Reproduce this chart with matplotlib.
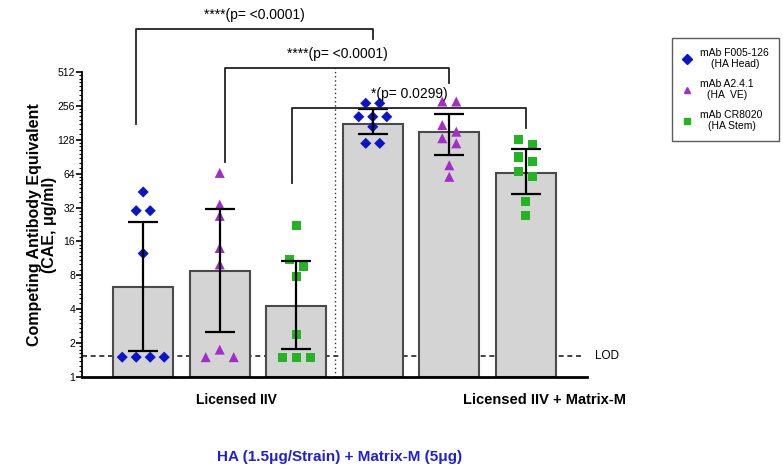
"""competing antibody equivalent per group, log2 scale"""
import numpy as np
import matplotlib
matplotlib.use("Agg")
import matplotlib.pyplot as plt
from matplotlib.ticker import LogLocator, NullFormatter
from matplotlib.transforms import blended_transform_factory

plt.rcParams['font.family'] = ['Liberation Sans', 'DejaVu Sans']

# bar heights (geometric means) and error bar ends
bar_means = [6.3, 8.7, 4.3, 178, 151, 65]
err_low = [1.69, 2.5, 1.78, 143, 94, 42]
err_high = [23.9, 31, 10.8, 238, 218, 105]

# individual values per bar
points = [
    [44, 30, 30, 12.5, 1.5, 1.5, 1.5, 1.5],
    [65, 34, 27, 14, 10, 1.75, 1.5, 1.5],
    [22, 11, 9.7, 7.8, 2.4, 1.5, 1.5, 1.5],
    [270, 270, 205, 205, 205, 167, 119, 119],
    [280, 280, 173, 151, 132, 119, 76, 60],
    [129, 115, 90, 82, 67, 60, 36, 27],
]
mabs = ["mAb F005-126\n(HA Head)", "mAb A2.4.1\n(HA  VE)", "mAb CR8020\n(HA Stem)"]
groups = ["Licensed IIV", "Licensed IIV + Matrix-M"]
lod = 1.55
yticks = [1, 2, 4, 8, 16, 32, 64, 128, 256, 512]

# (bar a, bar b, label)
comparisons = [
    (0, 3, "****(p= <0.0001)"),
    (1, 4, "****(p= <0.0001)"),
    (2, 5, "*(p= 0.0299)"),
]

markers = ['D', '^', 's']
colors = ['#0a14c8', '#a42cc8', '#22b422']
msizes = [32, 52, 44]


def swarm_offsets(vals, px_y, px_x, step=14, gap=9):
    """spread points of similar value sideways (in pixels), return x offsets"""
    lv = np.log2(np.asarray(vals, float)) * px_y
    order = np.argsort(lv)[::-1]
    clusters = []
    for i in order:
        if clusters and lv[clusters[-1][0]] - lv[i] <= gap:
            clusters[-1].append(i)
        else:
            clusters.append([i])
    offs = np.zeros(len(vals))
    for c in clusters:
        n = len(c)
        slots = (np.arange(n) - (n - 1) / 2) * step
        slots = slots[np.argsort(np.abs(slots), kind='stable')]
        for i, s in zip(c, slots):
            offs[i] = s / px_x
    return offs


fig = plt.figure(figsize=(7.83, 4.72), dpi=100)
ax = fig.add_axes([82 / 783, 95 / 472, 505 / 783, 305 / 472])
ax.set_yscale('log', base=2)
ax.set_xlim(-0.8, 5.8)
ax.set_ylim(1, 512)

x = np.arange(len(bar_means))
means = np.array(bar_means)
ax.bar(x, means - 1, bottom=1, width=0.79, color='#d4d4d4', edgecolor='#4a4a4a',
       linewidth=1.5, zorder=2)

# pixels per unit, for the swarm
px_x = ax.bbox.width / (5.8 + 0.8)
px_y = ax.bbox.height / 9
for i, vals in enumerate(points):
    k = i % 3
    offs = swarm_offsets(vals, px_y, px_x)
    ax.scatter(x[i] + offs, vals, marker=markers[k], s=msizes[k],
               color=colors[k], edgecolor='none', zorder=3, clip_on=False)

ax.errorbar(x, means, yerr=[means - np.array(err_low), np.array(err_high) - means],
            fmt='none', ecolor='black', elinewidth=1.6, capsize=11, capthick=1.6, zorder=4)

# LOD
ax.axhline(lod, xmin=0, xmax=0.994, color='#222222', lw=1.2, ls=(0, (3, 2.2)), zorder=1)
ax.text(5.9, lod, "LOD", fontsize=8.5, va='center', ha='left')

# significance brackets
levels = [1225, 552, 247]
left_bottom = [176, 81, 53]
right_bottom = [1003, 408, 163]
left_shift = [-0.1, 0.07, -0.05]
for (a, b, lab), lev, lb, rb, sh in zip(comparisons, levels, left_bottom, right_bottom, left_shift):
    xa, xb = a + sh, b
    ax.plot([xa, xa, xb, xb], [lb, lev, lev, rb], color='#222222', lw=1.3,
            clip_on=False, zorder=5)
    ax.text((xa + xb) / 2, lev * 1.33, lab, fontsize=10, ha='center', va='center')

# separator between the two groups
ax.plot([2.5, 2.5], [1, levels[1]], color='#333333', lw=1, ls=(0, (1, 2)),
        clip_on=False, zorder=1)

ax.set_yticks(yticks, labels=[str(t) for t in yticks])
ax.yaxis.set_minor_locator(LogLocator(base=2, subs=np.arange(1.125, 2, 0.125), numticks=100))
ax.yaxis.set_minor_formatter(NullFormatter())
ax.tick_params(axis='y', which='major', length=4, width=1.2, labelsize=7.5, pad=1)
ax.tick_params(axis='y', which='minor', length=2, width=0.8)
ax.set_xticks([])
for s in ['top', 'right']:
    ax.spines[s].set_visible(False)
ax.spines['left'].set_linewidth(1.3)
ax.spines['bottom'].set_linewidth(2)

ax.set_ylabel("Competing Antibody Equivalent\n(CAE, μg/ml)", fontsize=11.5,
              fontweight='bold', labelpad=0, linespacing=1.0)

tr = blended_transform_factory(ax.transData, ax.transAxes)
ax.text(1.22, -0.075, groups[0], transform=tr, fontsize=10, fontweight='bold',
        ha='center', va='center')
ax.text(5.25, -0.075, groups[1], transform=tr, fontsize=10.5, fontweight='bold',
        ha='center', va='center')
ax.text(2.57, -0.262, "HA (1.5μg/Strain) + Matrix-M (5μg)", transform=tr,
        fontsize=11, fontweight='bold', color='#2020d8', ha='center', va='center')

handles = [plt.Line2D([], [], marker=markers[k], color=colors[k], ls='none',
                      markersize=5) for k in range(3)]
leg = fig.legend(handles, mabs, loc='upper left', bbox_to_anchor=(0.852, 0.93),
                 fontsize=7.5, frameon=True, fancybox=False, edgecolor='#333333',
                 handlelength=1, handletextpad=0.8, labelspacing=0.9,
                 borderpad=0.9)
leg.get_frame().set_linewidth(1)
for t in leg.get_texts():
    t.set_multialignment('center')

plt.savefig("out.png", dpi=100)
